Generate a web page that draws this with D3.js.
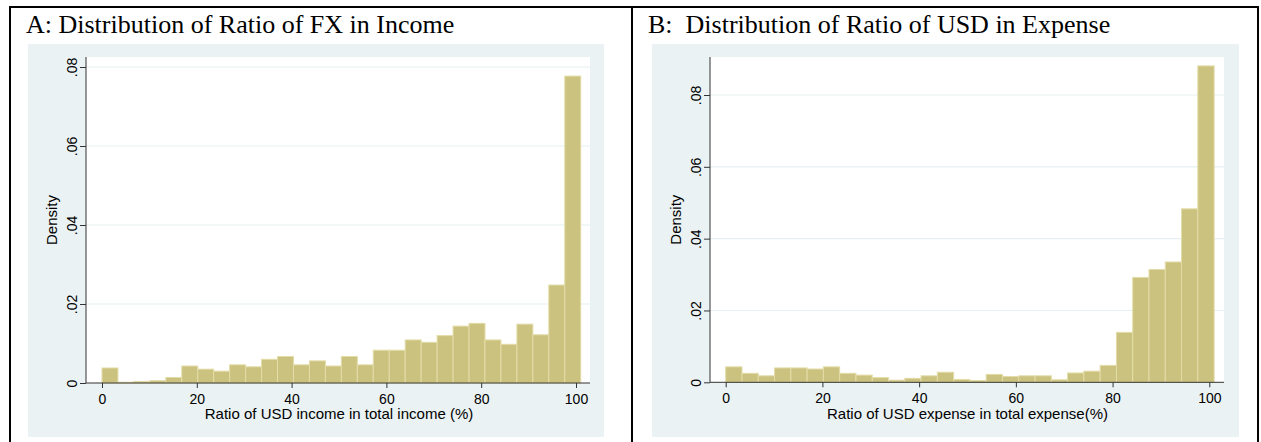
<!DOCTYPE html>
<html>
<head>
<meta charset="utf-8">
<script src="https://cdn.jsdelivr.net/npm/d3@7"></script>
<style>
  body { margin: 0; background: #fff; }
  svg { display: block; }
  .ttl { font-family: "Times New Roman", "Liberation Serif", serif; font-size: 26px; fill: #000; white-space: pre; }
  .axis text { font-family: Arial, "Liberation Sans", sans-serif; font-size: 14px; fill: #000; }
  .lbl { font-family: Arial, "Liberation Sans", sans-serif; font-size: 15px; fill: #000; }
</style>
</head>
<body>
<div id="chart"></div>
<script>
// histogram densities, 30 bins over 0..101
const binCount = 30;
const binMax = 101;
const incomeDensity = [0.0038, 0.0002, 0.0004, 0.0006, 0.0014, 0.0043, 0.0035, 0.0030, 0.0046, 0.0041,
                       0.0060, 0.0067, 0.0046, 0.0056, 0.0043, 0.0067, 0.0046, 0.0083, 0.0083, 0.0109,
                       0.0103, 0.0120, 0.0144, 0.0151, 0.0109, 0.0098, 0.0149, 0.0122, 0.0248, 0.0777];
const expenseDensity = [0.0043, 0.0025, 0.0018, 0.0040, 0.0040, 0.0037, 0.0043, 0.0025, 0.0020, 0.0013,
                        0.0006, 0.0011, 0.0018, 0.0028, 0.0008, 0.0005, 0.0022, 0.0016, 0.0018, 0.0018,
                        0.0007, 0.0026, 0.0031, 0.0047, 0.0139, 0.0292, 0.0314, 0.0335, 0.0483, 0.0881];
const xTicks = [0, 20, 40, 60, 80, 100];
const yTicks = [0, 0.02, 0.04, 0.06, 0.08];
const titles = ["A: Distribution of Ratio of FX in Income", "B:  Distribution of Ratio of USD in Expense"];
const xTitles = ["Ratio of USD income in total income (%)", "Ratio of USD expense in total expense(%)"];
const yTitle = "Density";

const W = 1261, H = 442;
const svg = d3.select("#chart").append("svg").attr("width", W).attr("height", H);

// outer table borders
const border = svg.append("g").attr("stroke", "#000").attr("stroke-width", 2);
border.append("line").attr("x1", 9).attr("x2", 1259).attr("y1", 7).attr("y2", 7);
[10, 632, 1258].forEach(x => {
    border.append("line").attr("x1", x).attr("x2", x).attr("y1", 6).attr("y2", H);
});

// layout of each panel (pixels)
const panels = [
    { data: incomeDensity, title: titles[0], xTitle: xTitles[0], titleX: 26,
      bg: [28, 44, 604, 437], plot: [86, 57, 590, 383], x0: 102, x100: 576, y0: 383, y08: 67 },
    { data: expenseDensity, title: titles[1], xTitle: xTitles[1], titleX: 648,
      bg: [652, 44, 1239, 437], plot: [710, 57, 1224, 382], x0: 725.7, x100: 1209.3, y0: 382.3, y08: 95 }
];

const yFmt = d => d === 0 ? "0" : d3.format(".2f")(d).replace(/^0/, "");

panels.forEach(p => {
    const g = svg.append("g");

    g.append("text").attr("class", "ttl").attr("x", p.titleX).attr("y", 33).text(p.title);

    // graph region and plot region
    g.append("rect").attr("x", p.bg[0]).attr("y", p.bg[1])
        .attr("width", p.bg[2] - p.bg[0]).attr("height", p.bg[3] - p.bg[1]).attr("fill", "#eaf2f3");
    g.append("rect").attr("x", p.plot[0]).attr("y", p.plot[1])
        .attr("width", p.plot[2] - p.plot[0]).attr("height", p.plot[3] - p.plot[1]).attr("fill", "#fff");

    const x = d3.scaleLinear().domain([0, 100]).range([p.x0, p.x100]);
    const y = d3.scaleLinear().domain([0, 0.08]).range([p.y0, p.y08]);

    // gridlines
    g.append("g").selectAll("line")
        .data(yTicks.filter(d => d > 0))
        .enter().append("line")
        .attr("x1", p.plot[0]).attr("x2", p.plot[2])
        .attr("y1", d => y(d)).attr("y2", d => y(d))
        .attr("stroke", "#e6eff1").attr("stroke-width", 1.2);

    // bars
    const binW = binMax / binCount;
    g.append("g").selectAll("rect")
        .data(p.data)
        .enter().append("rect")
        .attr("x", (d, i) => x(i * binW))
        .attr("y", d => y(d))
        .attr("width", (d, i) => x((i + 1) * binW) - x(i * binW))
        .attr("height", d => y(0) - y(d))
        .attr("fill", "#cac27e")
        .attr("stroke", "#e3dca8")
        .attr("stroke-width", 1);

    // x axis
    const xAxis = g.append("g").attr("class", "axis")
        .attr("transform", `translate(0,${p.y0})`)
        .call(d3.axisBottom(x).tickValues(xTicks).tickSize(5).tickPadding(6).tickFormat(d3.format("d")));
    xAxis.select(".domain").attr("d", `M${p.plot[0]},0H${p.plot[2]}`).attr("stroke", "#333");
    xAxis.selectAll(".tick line").attr("stroke", "#333");

    // y axis
    const yAxis = g.append("g").attr("class", "axis")
        .attr("transform", `translate(${p.plot[0]},0)`)
        .call(d3.axisLeft(y).tickValues(yTicks).tickSize(6).tickFormat(yFmt));
    yAxis.select(".domain").attr("d", `M0,${p.y0}V${p.plot[1]}`).attr("stroke", "#333");
    yAxis.selectAll(".tick line").attr("stroke", "#333");
    yAxis.selectAll(".tick text")
        .attr("x", null).attr("dy", null)
        .attr("text-anchor", "middle")
        .attr("transform", "translate(-9,0) rotate(-90)");

    // axis titles
    g.append("text").attr("class", "lbl")
        .attr("text-anchor", "middle")
        .attr("x", (p.x0 + p.x100) / 2).attr("y", 419)
        .text(p.xTitle);
    g.append("text").attr("class", "lbl")
        .attr("text-anchor", "middle")
        .attr("transform", `translate(${p.plot[0] - 29},${(p.plot[1] + p.y0) / 2}) rotate(-90)`)
        .text(yTitle);
});
</script>
</body>
</html>
